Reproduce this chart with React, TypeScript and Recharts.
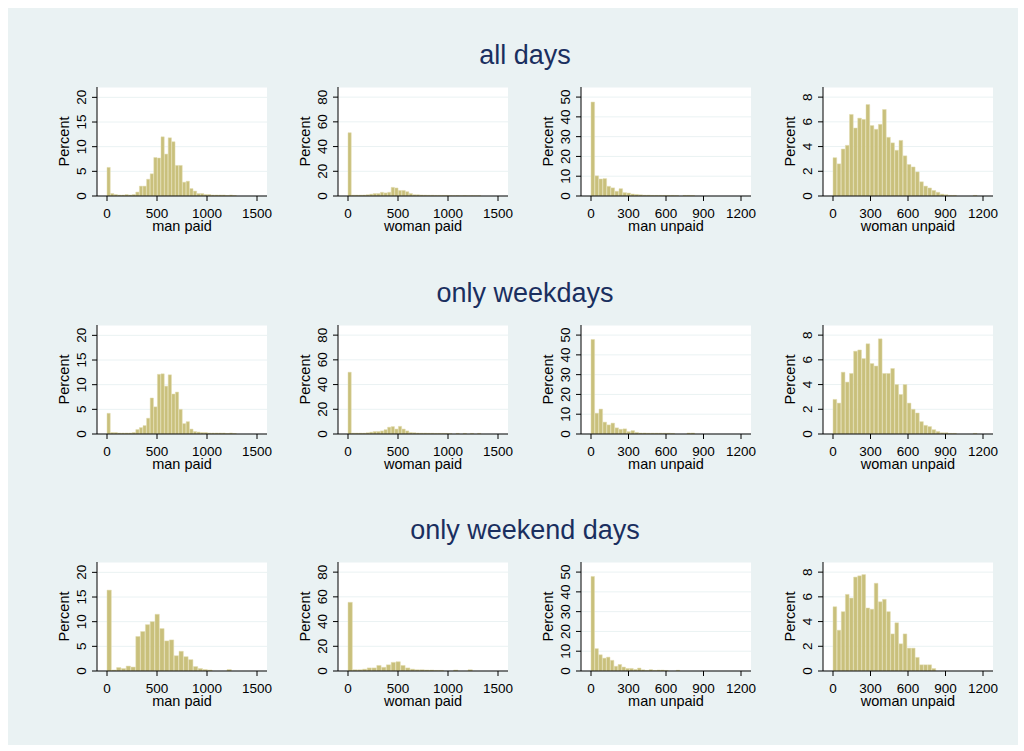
import { BarChart, Bar, XAxis, YAxis, CartesianGrid } from "recharts";

// section titles and panel variables
const rowTitles = ["all days", "only weekdays", "only weekend days"];
const varNames = ["man paid", "woman paid", "man unpaid", "woman unpaid"];

// axis ticks
const paidTicks = [0, 500, 1000, 1500];
const unpaidTicks = [0, 300, 600, 900, 1200];
const manPaidY = [0, 5, 10, 15, 20];
const womanPaidY = [0, 20, 40, 60, 80];
const manUnpaidY = [0, 10, 20, 30, 40, 50];
const womanUnpaidY = [0, 2, 4, 6, 8];

// bin widths (minutes) per row for paid / unpaid variables
const paidBinWidths = [36, 36, 48];
const manUnpaidBinWidths = [32, 32, 31];
const womanUnpaidBinWidths = [33, 33, 33];

// percent per bin, all days
const manPaidAll = [5.8, 0.5, 0.3, 0.2, 0.2, 0.3, 0.2, 0.3, 0.8, 2.0, 2.0, 3.4, 4.5, 7.8, 7.7, 12.0, 8.5, 11.8, 11.0, 6.2, 6.2, 2.8, 3.0, 1.5, 1.0, 0.5, 0.5, 0.3, 0.3, 0.2, 0.2, 0.2, 0.2, 0.1, 0.2, 0.1];
const womanPaidAll = [51.2, 0.7, 0.7, 0.7, 0.8, 1.0, 1.5, 2.0, 2.0, 3.0, 2.5, 3.0, 7.0, 6.5, 4.5, 4.5, 3.5, 2.0, 1.0, 1.0, 0.8, 0.7, 0.6, 0.6, 0.5, 0.5, 0.5, 0.5, 0.4, 0.3, 0.4, 0.2, 0.4, 0.2, 0.3, 0.2, 0.3];
const manUnpaidAll = [47.5, 10.2, 8.6, 8.8, 4.9, 4.1, 2.4, 3.7, 1.7, 1.5, 1.0, 0.8, 0.6, 0.4, 0.4, 0.3, 0.3, 0.3, 0.3, 0.3, 0.3, 0.2, 0, 0.3, 0.3, 0.2];
const womanUnpaidAll = [3.1, 2.6, 3.8, 4.1, 6.6, 5.5, 6.3, 6.2, 7.4, 5.7, 5.4, 5.8, 7.0, 4.75, 4.3, 3.7, 4.5, 3.25, 2.55, 2.35, 1.95, 1.15, 0.8, 0.65, 0.45, 0.3, 0.15, 0.1, 0.05, 0.05, 0, 0, 0, 0, 0.05];

// weekdays
const manPaidWeekday = [4.2, 0.3, 0.3, 0.2, 0.2, 0.2, 0.2, 0.3, 0.9, 1.3, 1.7, 3.2, 7.3, 5.5, 12.1, 12.2, 9.7, 12.0, 8.1, 8.5, 5.0, 2.1, 2.5, 1.0, 0.5, 0.4, 0.3, 0.3, 0.2, 0.2, 0.2, 0.2, 0.2, 0.1, 0.2, 0.1];
const womanPaidWeekday = [50.0, 0.7, 0.7, 0.7, 0.7, 1.0, 1.5, 2.0, 2.0, 2.5, 3.5, 5.5, 6.0, 4.0, 6.2, 4.0, 2.5, 1.2, 1.0, 0.8, 0.7, 0.7, 0.6, 0.6, 0.5, 0.5, 0.5, 0.5, 0.3, 0, 0.5, 0, 0.5, 0, 0.5, 0, 0.5];
const manUnpaidWeekday = [47.8, 10.5, 12.6, 6.0, 4.6, 5.5, 3.1, 2.4, 2.6, 1.2, 1.7, 0.8, 0.5, 0.5, 0.4, 0.4, 0.4, 0.4, 0.4, 0.4, 0.3, 0, 0, 0, 0.5, 0.5];
const womanUnpaidWeekday = [2.8, 2.5, 5.0, 4.2, 4.9, 6.7, 6.8, 6.1, 7.3, 5.7, 5.5, 7.7, 4.9, 4.9, 5.3, 4.0, 3.2, 4.0, 2.5, 2.0, 1.7, 1.0, 0.7, 0.6, 0.35, 0.2, 0.1, 0.1, 0.05, 0.05, 0, 0, 0, 0, 0.05];

// weekend days
const manPaidWeekend = [16.4, 0.2, 0.7, 0.5, 1.0, 0.8, 7.0, 8.0, 9.4, 10.0, 11.5, 8.6, 6.1, 6.3, 3.1, 4.0, 2.9, 2.3, 0.9, 0.5, 0.3, 0.2, 0, 0, 0, 0.3];
const womanPaidWeekend = [55.6, 1.0, 1.0, 1.5, 2.5, 2.5, 4.5, 3.0, 5.0, 7.0, 7.5, 4.5, 2.5, 1.5, 1.0, 1.0, 0.8, 0.8, 0.5, 0.5, 0, 0, 0.8, 0, 0, 1.0];
const manUnpaidWeekend = [47.8, 11.3, 8.2, 6.5, 7.0, 5.4, 2.4, 3.3, 2.0, 1.3, 1.3, 0.8, 1.5, 0.6, 0.3, 0.7, 0.3, 0.5, 0.5, 0.3, 0, 0, 0.4];
const womanUnpaidWeekend = [5.2, 3.3, 4.8, 6.2, 5.9, 7.6, 7.7, 7.8, 5.1, 5.0, 7.1, 5.6, 5.8, 4.8, 3.0, 3.9, 2.2, 3.0, 1.85, 1.85, 1.1, 0.5, 0.5, 0.5, 0.2];

const rows = [
  [manPaidAll, womanPaidAll, manUnpaidAll, womanUnpaidAll],
  [manPaidWeekday, womanPaidWeekday, manUnpaidWeekday, womanUnpaidWeekday],
  [manPaidWeekend, womanPaidWeekend, manUnpaidWeekend, womanUnpaidWeekend],
];

const FONT = '"Liberation Sans", Arial, Helvetica, sans-serif';
const BG = "#eaf2f3";
const BAR = "#c9c07c";
const TITLE = "#1a2f5f";

const colLeft = [97, 338, 581, 823];
const rowTop = [87, 325, 562];
const PW = 170;
const PH = 109;
const ML = 50;
const MT = 6;
const MR = 8;
const MB = 40;

const PAID_DOMAIN = [-100, 1600];
const UNPAID_DOMAIN = [-80, 1280];

const YTick = (props: any) => {
  const { x, y, payload } = props;
  const cx = x - 11;
  return (
    <text x={cx} y={y} dy="0.36em" transform={`rotate(-90 ${cx} ${y})`} textAnchor="middle" fontSize={13.5} fill="#000" fontFamily={FONT}>
      {payload.value}
    </text>
  );
};

function Panel({ row, col }: { row: number; col: number }) {
  const paid = col < 2;
  const binW = paid ? paidBinWidths[row] : col === 2 ? manUnpaidBinWidths[row] : womanUnpaidBinWidths[row];
  const xDomain = paid ? PAID_DOMAIN : UNPAID_DOMAIN;
  const yTicks = [manPaidY, womanPaidY, manUnpaidY, womanUnpaidY][col];
  const yMax = [22.1, 88.2, 55.1, 8.82][col];
  const data = rows[row][col].map((pct, i) => ({ mid: binW * (i + 0.5), pct }));
  const barPx = (binW * PW) / (xDomain[1] - xDomain[0]);
  return (
    <div style={{ position: "absolute", left: colLeft[col] - ML, top: rowTop[row] - MT }}>
      <BarChart
        width={ML + PW + MR}
        height={MT + PH + MB}
        data={data}
        margin={{ top: MT, right: MR, left: 0, bottom: 0 }}
        barCategoryGap={0}
        barGap={0}
      >
        <CartesianGrid vertical={false} stroke={BG} strokeWidth={1} fill="#ffffff" />
        <XAxis
          type="number"
          dataKey="mid"
          domain={xDomain}
          ticks={paid ? paidTicks : unpaidTicks}
          allowDataOverflow
          interval={0}
          height={MB}
          tickSize={5}
          tickMargin={7}
          stroke="#000"
          tick={{ fill: "#000", fontSize: 13.5, fontFamily: FONT }}
        />
        <YAxis
          type="number"
          domain={[0, yMax]}
          ticks={yTicks}
          allowDataOverflow
          interval={0}
          width={ML}
          tickSize={5}
          tickMargin={0}
          stroke="#000"
          tick={<YTick />}
        />
        <Bar dataKey="pct" fill={BAR} stroke="#e2ddb0" strokeWidth={0.5} barSize={barPx} isAnimationActive={false} />
      </BarChart>
    </div>
  );
}

export default function App() {
  return (
    <div style={{ position: "absolute", left: 0, top: 0, width: 1024, height: 751, background: "#fff", overflow: "hidden" }}>
      <div style={{ position: "absolute", left: 8, top: 8, width: 1010, height: 737, background: BG }} />
      {rows.map((r, ri) => r.map((_, ci) => <Panel key={`${ri}-${ci}`} row={ri} col={ci} />))}
      <svg width={1024} height={751} style={{ position: "absolute", left: 0, top: 0, pointerEvents: "none" }} fontFamily={FONT}>
        {rowTitles.map((t, ri) => (
          <text key={t} x={525} y={rowTop[ri] - 23} textAnchor="middle" fontSize={27} fill={TITLE}>
            {t}
          </text>
        ))}
        {rowTop.map((top, ri) =>
          colLeft.map((left, ci) => (
            <g key={`${ri}-${ci}`}>
              <text
                x={left - 33}
                y={top + PH / 2}
                dy="0.36em"
                transform={`rotate(-90 ${left - 33} ${top + PH / 2})`}
                textAnchor="middle"
                fontSize={14.5}
                fill="#000"
              >
                Percent
              </text>
              <text x={left + PW / 2} y={top + PH + 34.5} textAnchor="middle" fontSize={14.5} fill="#000">
                {varNames[ci]}
              </text>
            </g>
          ))
        )}
      </svg>
    </div>
  );
}
